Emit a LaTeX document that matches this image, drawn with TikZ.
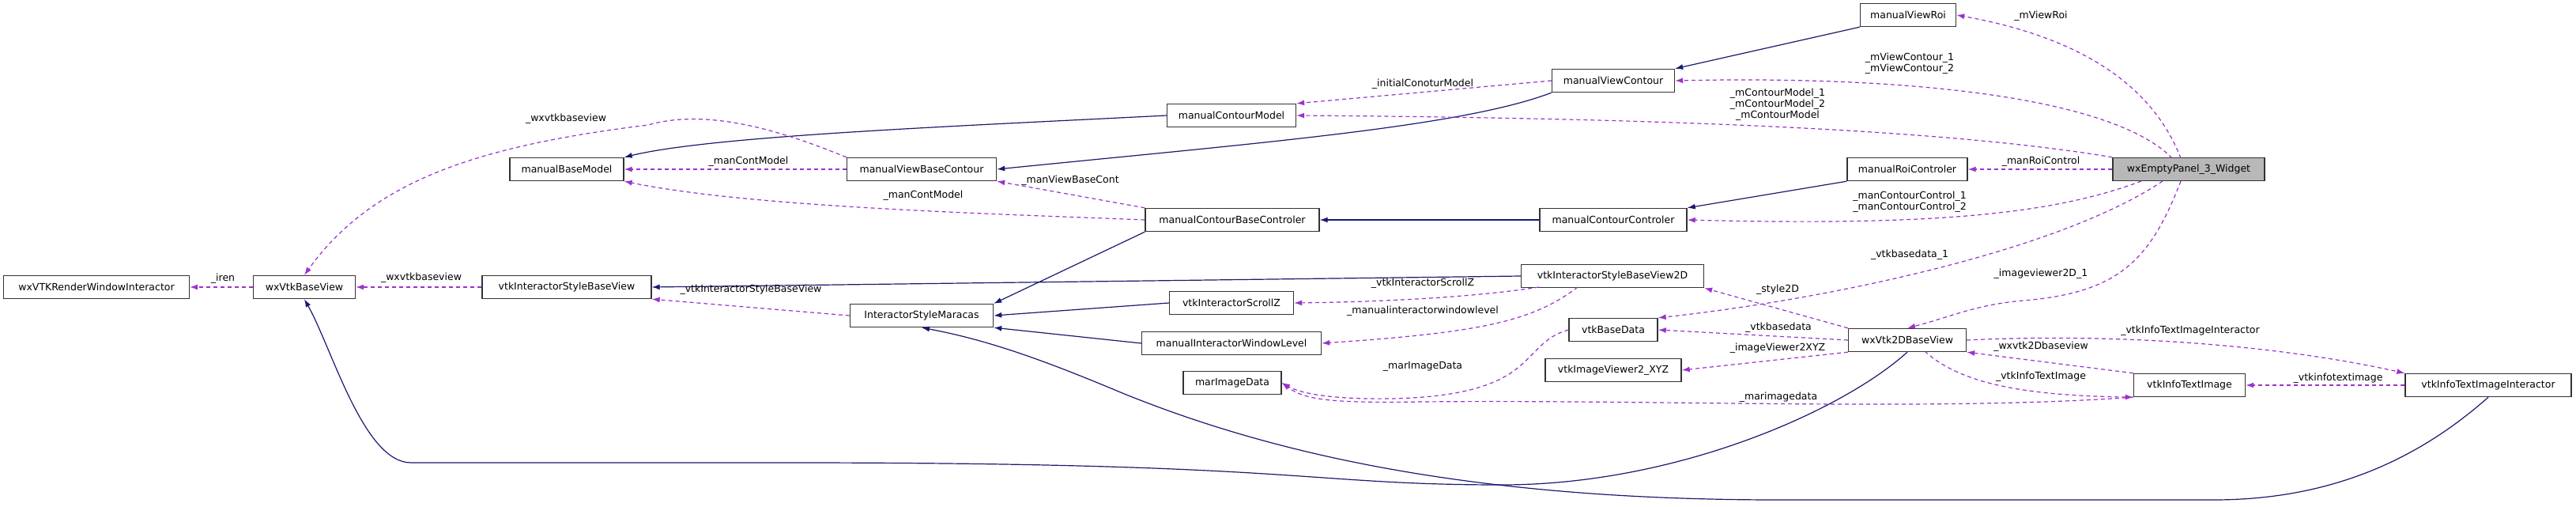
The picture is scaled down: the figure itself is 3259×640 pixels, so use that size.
\documentclass[tikz,border=0pt]{standalone}
\usepackage{fontspec}
\setmainfont{DejaVu Sans}
\usetikzlibrary{arrows.meta}
\definecolor{inh}{RGB}{25,25,112}
\definecolor{use}{RGB}{154,50,205}
\begin{document}
\begin{tikzpicture}[x=1pt,y=-1pt,
 box/.style={draw=black!80,line width=1.4pt,fill=white,minimum height=29pt,inner sep=0pt,font=\fontsize{12.5}{14}\selectfont},
 inh/.style={draw=inh,line width=1.2pt,-{Latex[length=10pt,width=7pt]}},
 use/.style={draw=use,line width=1.2pt,dash pattern=on 5pt off 4pt,-{Latex[length=10pt,width=7pt]}},
 lbl/.style={font=\fontsize{12.5}{14}\selectfont,inner sep=0pt,align=center}]
\useasboundingbox (0,0) rectangle (3259,640);
\fill[white] (0,0) rectangle (3259,640);
% nodes
\node[box,minimum width=235pt] (rwi) at (122,363) {wxVTKRenderWindowInteractor};
\node[box,minimum width=129pt] (bv) at (385,363) {wxVtkBaseView};
\node[box,minimum width=214pt] (isbv) at (717,363) {vtkInteractorStyleBaseView};
\node[box,minimum width=144pt] (bm) at (717,214) {manualBaseModel};
\node[box,minimum width=163pt] (cm) at (1558,146) {manualContourModel};
\node[box,minimum width=189pt] (vbc) at (1166,214) {manualViewBaseContour};
\node[box,minimum width=220pt] (cbc) at (1559,278) {manualContourBaseControler};
\node[box,minimum width=181pt] (ism) at (1166,399) {InteractorStyleMaracas};
\node[box,minimum width=157pt] (isz) at (1558,383) {vtkInteractorScrollZ};
\node[box,minimum width=227pt] (iwl) at (1558,434) {manualInteractorWindowLevel};
\node[box,minimum width=124pt] (mid) at (1559,484) {marImageData};
\node[box,minimum width=121pt] (vr) at (2414,19) {manualViewRoi};
\node[box,minimum width=155pt] (vc) at (2041,102) {manualViewContour};
\node[box,minimum width=152pt] (rc) at (2413,214) {manualRoiControler};
\node[box,minimum width=192pt,fill=black!28] (ep) at (2769,214) {wxEmptyPanel\_3\_Widget};
\node[box,minimum width=186pt] (cc) at (2041,278) {manualContourControler};
\node[box,minimum width=231pt] (isbv2) at (2040,349) {vtkInteractorStyleBaseView2D};
\node[box,minimum width=112pt] (bd) at (2041,417) {vtkBaseData};
\node[box,minimum width=172pt] (iv) at (2041,468) {vtkImageViewer2\_XYZ};
\node[box,minimum width=149pt] (v2d) at (2413,430) {wxVtk2DBaseView};
\node[box,minimum width=141pt] (iti) at (2770,487) {vtkInfoTextImage};
\node[box,minimum width=210pt] (itii) at (3148,487) {vtkInfoTextImageInteractor};
% inheritance
\draw[inh] (cm.west) .. controls (1200,160) and (900,172) .. (bm.north east);
\draw[inh] (vc.south west) .. controls (1850,160) and (1600,180) .. (vbc.east);
\draw[inh] (vr.south west) -- (vc.north east);
\draw[inh] (cc.west) -- (cbc.east);
\draw[inh] (rc.south west) -- (cc.north east);
\draw[inh] (cbc.south west) -- (ism.north east);
\draw[inh] (isz.west) -- (ism.east);
\draw[inh] (iwl.west) -- (ism.south east);
\draw[inh] (isbv2.west) -- (isbv.east);
\draw[inh] (v2d.south) .. controls (2330,520) and (2120,613) .. (1900,613)
  .. controls (1650,613) and (1650,585) .. (1000,585) -- (520,585)
  .. controls (460,585) and (420,440) .. (bv.south);
\draw[inh] (itii.south) .. controls (3060,580) and (2950,632) .. (2800,632) -- (2250,632)
  .. controls (1850,632) and (1600,570) .. (1420,497) .. controls (1320,455) and (1250,430) .. (ism.south);
% usage
\draw[use] (bv.west) -- (rwi.east);
\node[lbl] (l1) at (282,352) {\_iren};
\draw[use] (isbv.west) -- (bv.east);
\node[lbl] at (533,351) {\_wxvtkbaseview};
\draw[use] (vbc.north west) .. controls (1000,170) and (900,135) .. (820,158) .. controls (600,185) and (470,230) .. (bv.north);
\node[lbl] at (716,150) {\_wxvtkbaseview};
\draw[use] (vbc.west) -- (bm.east);
\node[lbl] at (947,204) {\_manContModel};
\draw[use] (cbc.west) .. controls (1250,270) and (950,262) .. (bm.south east);
\node[lbl] at (1168,247) {\_manContModel};
\draw[use] (cbc.north west) -- (vbc.south east);
\node[lbl] at (1354,228) {\_manViewBaseCont};
\draw[use] (ism.west) -- (isbv.south east);
\node[lbl] at (950,366) {\_vtkInteractorStyleBaseView};
\draw[use] (vc.west) -- (cm.north east);
\node[lbl] at (1800,106) {\_initialConoturModel};
\draw[use] (ep.north west) .. controls (2500,170) and (2200,150) .. (cm.east);
\node[lbl] at (2249,132) {\_mContourModel\_1\\\_mContourModel\_2\\\_mContourModel};
\draw[use] (2748,200) .. controls (2680,130) and (2450,95) .. (vc.east);
\node[lbl] at (2416,80) {\_mViewContour\_1\\\_mViewContour\_2};
\draw[use] (2759,200) .. controls (2720,100) and (2620,45) .. (vr.east);
\node[lbl] at (2582,20) {\_mViewRoi};
\draw[use] (ep.west) -- (rc.east);
\node[lbl] at (2582,204) {\_manRoiControl};
\draw[use] (2709,229) .. controls (2600,270) and (2450,286) .. (cc.east);
\node[lbl] at (2416,255) {\_manContourControl\_1\\\_manContourControl\_2};
\draw[use] (2736,229) .. controls (2600,320) and (2300,380) .. (bd.north east);
\node[lbl] at (2416,322) {\_vtkbasedata\_1};
\draw[use] (2759,229) .. controls (2720,330) and (2680,370) .. (2560,380) .. controls (2500,385) and (2470,400) .. (v2d.north);
\node[lbl] at (2582,346) {\_imageviewer2D\_1};
\draw[use] (v2d.north west) -- (isbv2.south east);
\node[lbl] at (2249,366) {\_style2D};
\draw[use] (v2d.west) -- (bd.east);
\node[lbl] at (2250,414) {\_vtkbasedata};
\draw[use] (v2d.south west) -- (iv.east);
\node[lbl] at (2249,440) {\_imageViewer2XYZ};
\draw[use] (v2d.east) .. controls (2700,420) and (2900,440) .. (itii.north west);
\node[lbl] at (2771,418) {\_vtkInfoTextImageInteractor};
\draw[use] (iti.north west) -- (v2d.south east);
\node[lbl] at (2582,438) {\_wxvtk2Dbaseview};
\draw[use] (2435,444) .. controls (2480,485) and (2560,500) .. (iti.south west);
\node[lbl] at (2582,476) {\_vtkInfoTextImage};
\draw[use] (itii.west) -- (iti.east);
\node[lbl] at (2958,478) {\_vtkinfotextimage};
\draw[use] (iti.south west) .. controls (2450,520) and (2100,505) .. (1800,508) .. controls (1680,510) and (1650,505) .. (mid.east);
\node[lbl] at (2250,502) {\_marimagedata};
\draw[use] (bd.west) .. controls (1920,435) and (1950,500) .. (1760,504) .. controls (1700,505) and (1650,500) .. (mid.east);
\node[lbl] at (1800,463) {\_marImageData};
\draw[use] (1947,363) .. controls (1850,378) and (1720,382) .. (isz.east);
\node[lbl] at (1800,358) {\_vtkInteractorScrollZ};
\draw[use] (1996,363) .. controls (1940,405) and (1880,420) .. (iwl.east);
\node[lbl] at (1800,393) {\_manualinteractorwindowlevel};
\end{tikzpicture}
\end{document}
